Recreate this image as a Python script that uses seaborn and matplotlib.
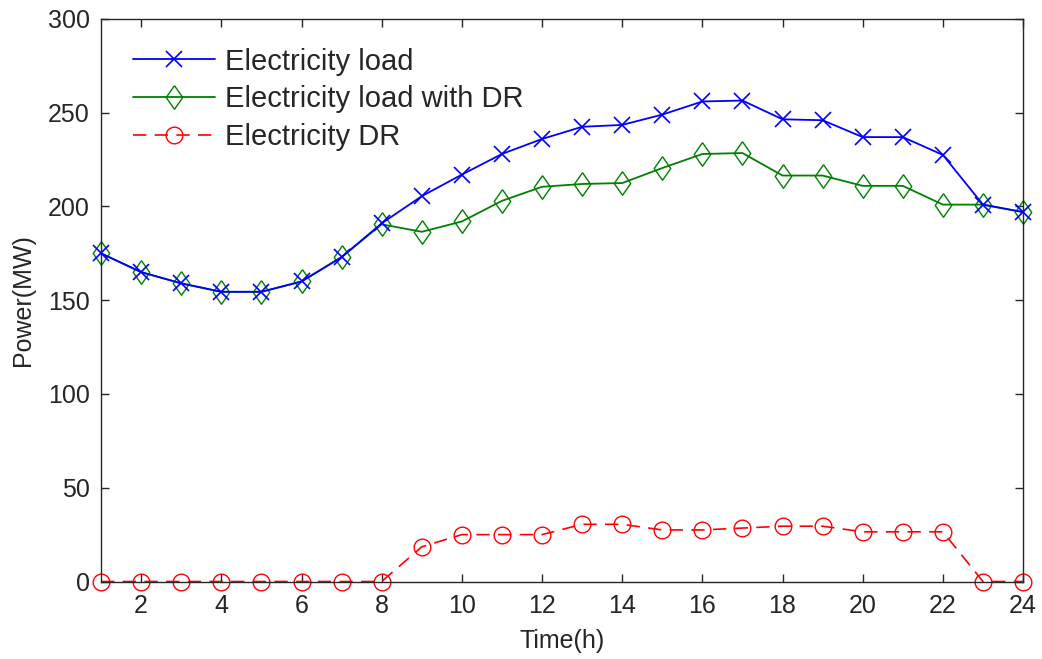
import numpy as np
import pandas as pd
import matplotlib
matplotlib.use("Agg")
import matplotlib.pyplot as plt
import seaborn as sns

# Hourly values
hours = list(range(1, 25))
load = [175, 165, 159, 154.5, 154.5, 160, 173, 191, 205.5, 217, 228, 236, 242.5,
        243.5, 249, 256, 256.5, 246.5, 246, 237, 237, 227.5, 201, 197]
load_dr = [175, 165, 159, 154.5, 154.5, 160, 173, 190.5, 186.5, 192, 203, 210.5, 212,
           212.5, 220.5, 228, 228.5, 216.5, 216.5, 211, 211, 201, 201, 197]
dr = [0, 0, 0, 0, 0, 0, 0, 0, 18.5, 25, 25, 25, 30.5, 30.5, 27.5, 27.5, 28.5, 29.5,
      29.5, 26.5, 26.5, 26.5, 0, 0]

sns.set_style("ticks")
plt.rcParams['font.family'] = ['Liberation Sans', 'DejaVu Sans']
ink = '#262626'

df = pd.DataFrame({"hour": hours, "load": load, "load_dr": load_dr, "dr": dr})

# taller diamond, as in the reference
diamond = [(0, 1), (0.7, 0), (0, -1), (-0.7, 0), (0, 1)]

fig = plt.figure(figsize=(10.42, 6.59), dpi=100)
ax = fig.add_axes([0.097, 0.1176, 0.8848, 0.8536])

sns.lineplot(data=df, x="hour", y="load", ax=ax, color='blue', lw=1.3,
             marker='x', markersize=11, mew=1.2, mec='blue',
             label='Electricity load', clip_on=False, zorder=3)
sns.lineplot(data=df, x="hour", y="load_dr", ax=ax, color='green', lw=1.3,
             marker=diamond, markersize=17, mew=1.0, mfc='none', mec='green',
             label='Electricity load with DR', clip_on=False, zorder=2)
sns.lineplot(data=df, x="hour", y="dr", ax=ax, color='red', lw=1.2,
             linestyle=(0, (8, 5)), marker='o', markersize=12, mew=1.0,
             mfc='none', mec='red', label='Electricity DR', clip_on=False, zorder=2)

ax.set_xlim(1, 24)
ax.set_ylim(0, 300)
ax.set_xticks(range(2, 25, 2))
ax.set_yticks(range(0, 301, 50))
ax.tick_params(direction='in', length=6, width=1, colors=ink, labelsize=18,
               top=True, right=True, labeltop=False, labelright=False)
ax.tick_params(axis='x', pad=9)
ax.tick_params(axis='y', pad=8)
for s in ax.spines.values():
    s.set_visible(True)
    s.set_color(ink)
    s.set_linewidth(1.0)

ax.set_xlabel('Time(h)', fontsize=18, color=ink, labelpad=8)
ax.set_ylabel('Power(MW)', fontsize=18, color=ink, labelpad=9)

leg = ax.legend(loc='upper left', bbox_to_anchor=(0.0347, 0.949), frameon=False,
                fontsize=21, handlelength=2.8, labelspacing=0.33,
                borderaxespad=0, handletextpad=0.34, borderpad=0)
for t in leg.get_texts():
    t.set_color(ink)

fig.savefig('out.png', dpi=100)
